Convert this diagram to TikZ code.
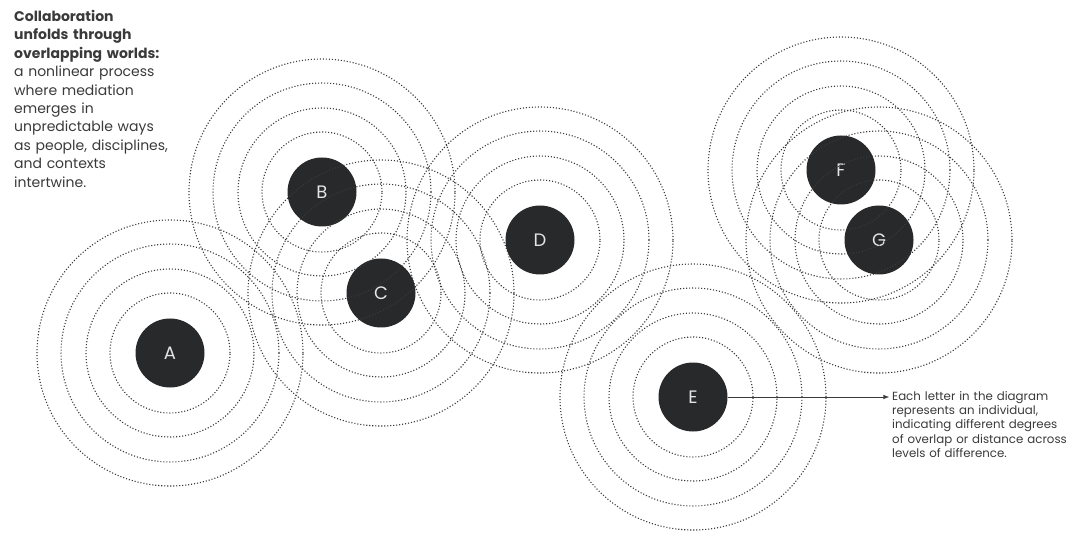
\documentclass[tikz,border=0pt]{standalone}
\usepackage{fontspec}
\setmainfont{Poppins}
\usepackage{xcolor}
\usetikzlibrary{arrows.meta,positioning}
\definecolor{dot}{HTML}{28292B}
\definecolor{ink}{HTML}{3A3A3A}

\begin{document}
\begin{tikzpicture}[
x=1pt, y=-1pt,
person/.style={circle, fill=dot, minimum size=69pt, inner sep=0pt, text=white!90!black, font=\fontsize{18}{18}\selectfont},
ring/.style={draw=ink, line width=1.1pt, dash pattern=on 1.1pt off 1.9pt},
note/.style={align=left, anchor=north west, inner sep=0pt, text=ink},
arr/.style={-{Latex[length=2mm,width=1.6mm]}, thin, draw=ink}
]
\useasboundingbox (0,0) rectangle (1081,534);
% individuals
\node[person] (nA) at (170,353) {A};
\node[person] (nB) at (322,192) {B};
\node[person] (nC) at (381,293) {C};
\node[person] (nD) at (540,240) {D};
\node[person] (nE) at (693,397) {E};
\node[person] (nF) at (841,170) {F};
\node[person] (nG) at (879,240) {G};
% worlds
\foreach \p in {nA,nB,nC,nD,nE,nF,nG}
  \foreach \r in {60,84,109,133}
    \draw[ring] (\p) circle[radius=\r pt];
% texts
\node[note, text width=190pt, font=\fontsize{14}{18.4}\selectfont] (title) at (14,10)
{\textbf{Collaboration}\\ \textbf{unfolds through}\\ \textbf{overlapping worlds:}\\
a nonlinear process\\ where mediation\\ emerges in\\ unpredictable ways\\
as people, disciplines,\\ and contexts\\ intertwine.};
\node[note, text width=200pt, font=\fontsize{11.8}{14.3}\selectfont] (legend) at (892,391)
{Each letter in the diagram\\ represents an individual,\\ indicating different degrees\\
of overlap or distance across\\ levels of difference.};
\draw[arr] (nE) -- ([xshift=-3pt]nE -| legend.west);
\end{tikzpicture}
\end{document}
